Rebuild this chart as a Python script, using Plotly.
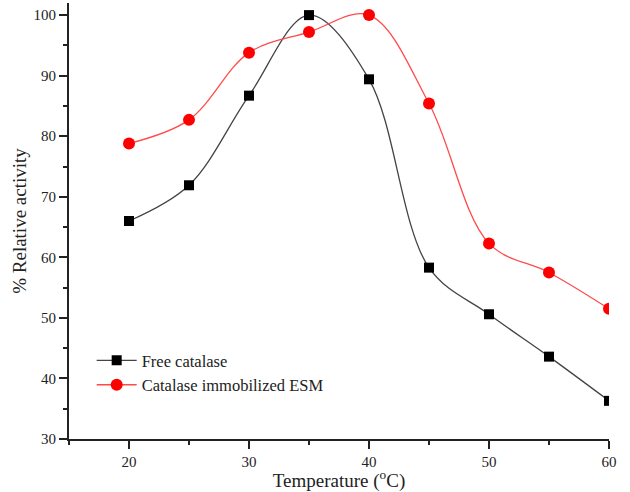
import plotly.graph_objects as go

temperature = [20, 25, 30, 35, 40, 45, 50, 55, 60]
free_catalase = [66.0, 71.9, 86.7, 100.0, 89.4, 58.3, 50.6, 43.6, 36.3]
immobilized_esm = [78.8, 82.7, 93.8, 97.2, 100.0, 85.4, 62.3, 57.5, 51.5]

FONT = "Liberation Serif"

fig = go.Figure()
fig.add_trace(go.Scatter(
    x=temperature, y=free_catalase, name="Free catalase",
    mode="lines+markers",
    line=dict(color="#444444", width=1.3, shape="spline", smoothing=1.0),
    marker=dict(symbol="square", size=10, color="black"),
))
fig.add_trace(go.Scatter(
    x=temperature, y=immobilized_esm, name="Catalase immobilized ESM",
    mode="lines+markers",
    line=dict(color="#ff4a4a", width=1.3, shape="spline", smoothing=1.0),
    marker=dict(symbol="circle", size=12, color="#ff0000"),
))

axis_common = dict(
    showline=True, linecolor="#222222", linewidth=2,
    ticks="outside", ticklen=8, tickwidth=1.5, tickcolor="#222222",
    showgrid=False, zeroline=False, mirror=False,
    tickfont=dict(family=FONT, size=15, color="#222222"),
    minor=dict(ticks="outside", ticklen=4, tickwidth=1.5, tickcolor="#222222", dtick=5),
)

fig.update_layout(
    width=630, height=492,
    margin=dict(l=69, r=21, t=3, b=53),
    paper_bgcolor="white", plot_bgcolor="white",
    font=dict(family=FONT, color="#222222"),
    xaxis=dict(range=[15, 60], dtick=10, tick0=0,
               title=dict(text="Temperature (<sup>o</sup>C)", font=dict(family=FONT, size=19), standoff=4),
               **axis_common),
    yaxis=dict(range=[30, 102], dtick=10, tick0=0,
               title=dict(text="% Relative activity", font=dict(family=FONT, size=19), standoff=2),
               **axis_common),
    legend=dict(x=0.042, y=0.22, xanchor="left", yanchor="top",
                bgcolor="rgba(0,0,0,0)", font=dict(family=FONT, size=16.5, color="#222222"),
                tracegroupgap=0, itemwidth=40),
    showlegend=True,
)

fig.write_html("out.html")
